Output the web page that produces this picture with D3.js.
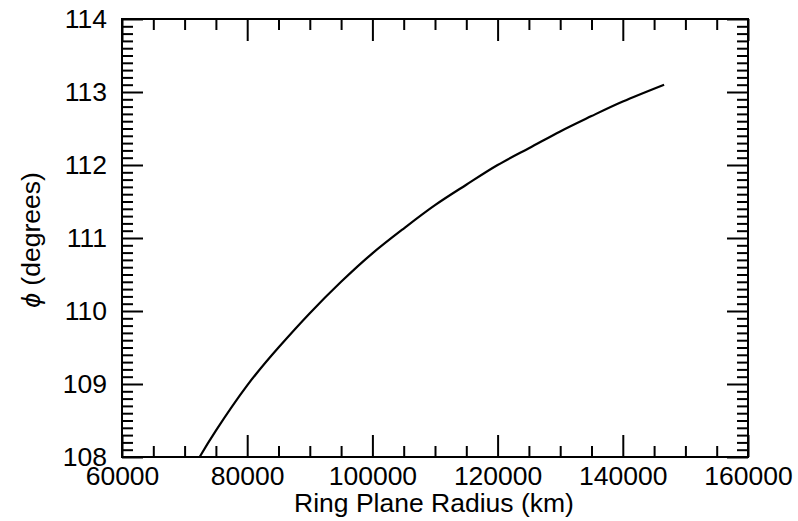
<!DOCTYPE html>
<html>
<head>
<meta charset="utf-8">
<script src="https://cdn.jsdelivr.net/npm/d3@7"></script>
<style>
  html, body { margin: 0; padding: 0; background: #fff; }
  svg { display: block; }
  text { font-family: "Liberation Sans", Arial, Helvetica, sans-serif; fill: #000; }
</style>
</head>
<body>
<svg id="chart" width="798" height="521"></svg>
<script>
// Data
const radius = [72400, 75000, 80000, 85000, 90000, 95000, 100000, 105000, 110000, 115000, 120000, 125000, 130000, 135000, 140000, 146600];
const phi    = [108.00, 108.36, 108.98, 109.50, 109.97, 110.40, 110.79, 111.13, 111.45, 111.73, 112.00, 112.23, 112.46, 112.67, 112.87, 113.10];

const xMajorTicks = [60000, 80000, 100000, 120000, 140000, 160000];
const xMinorTicks = d3.range(60000, 160001, 5000).filter(v => v % 20000 !== 0);
const yMajorTicks = [108, 109, 110, 111, 112, 113, 114];
const yMinorTicks = d3.range(1, 60).map(i => 108 + i / 10).filter((v, i) => (i + 1) % 10 !== 0);

const xTitle = "Ring Plane Radius (km)";
const yTitleSymbol = "ϕ";
const yTitleRest = " (degrees)";

const svg = d3.select("#chart");
const L = 122, R = 748, T = 19, B = 457;

const x = d3.scaleLinear().domain([60000, 160000]).range([L, R]);
const y = d3.scaleLinear().domain([108, 114]).range([B, T]);

const fmt = d3.format("d");
const fontSize = 26.5;

function styleAxis(g) {
  g.select(".domain").remove();
  g.selectAll(".tick line").attr("stroke", "#000").attr("stroke-width", 2);
  g.selectAll(".tick text").style("font-size", fontSize + "px").attr("fill", "#000");
}

// Bottom axis
svg.append("g").attr("transform", `translate(0,${B})`)
  .call(d3.axisBottom(x).tickValues(xMajorTicks).tickSize(-22).tickPadding(9).tickFormat(fmt))
  .call(styleAxis);
svg.append("g").attr("transform", `translate(0,${B})`)
  .call(d3.axisBottom(x).tickValues(xMinorTicks).tickSize(-11).tickFormat(""))
  .call(styleAxis);
// Top axis
svg.append("g").attr("transform", `translate(0,${T})`)
  .call(d3.axisTop(x).tickValues(xMajorTicks).tickSize(-22).tickFormat(""))
  .call(styleAxis);
svg.append("g").attr("transform", `translate(0,${T})`)
  .call(d3.axisTop(x).tickValues(xMinorTicks).tickSize(-11).tickFormat(""))
  .call(styleAxis);
// Left axis
svg.append("g").attr("transform", `translate(${L},0)`)
  .call(d3.axisLeft(y).tickValues(yMajorTicks).tickSize(-21).tickPadding(15).tickFormat(fmt))
  .call(styleAxis);
svg.append("g").attr("transform", `translate(${L},0)`)
  .call(d3.axisLeft(y).tickValues(yMinorTicks).tickSize(-11).tickFormat(""))
  .call(styleAxis);
// Right axis
svg.append("g").attr("transform", `translate(${R},0)`)
  .call(d3.axisRight(y).tickValues(yMajorTicks).tickSize(-21).tickFormat(""))
  .call(styleAxis);
svg.append("g").attr("transform", `translate(${R},0)`)
  .call(d3.axisRight(y).tickValues(yMinorTicks).tickSize(-11).tickFormat(""))
  .call(styleAxis);

// Frame
svg.append("rect")
  .attr("x", L).attr("y", T).attr("width", R - L).attr("height", B - T)
  .attr("fill", "none").attr("stroke", "#000").attr("stroke-width", 2);

// Curve
const pts = radius.map((r, i) => [r, phi[i]]);
svg.append("path")
  .datum(pts)
  .attr("fill", "none")
  .attr("stroke", "#000")
  .attr("stroke-width", 2.2)
  .attr("d", d3.line().x(d => x(d[0])).y(d => y(d[1])).curve(d3.curveNatural));

// Axis titles
svg.append("text")
  .attr("x", 434).attr("y", 512)
  .attr("text-anchor", "middle")
  .style("font-size", fontSize + "px")
  .text(xTitle);

const yt = svg.append("text")
  .attr("transform", `translate(40,240) rotate(-90)`)
  .attr("text-anchor", "middle")
  .style("font-size", fontSize + "px");
yt.append("tspan").style("font-style", "italic").text(yTitleSymbol);
yt.append("tspan").text(yTitleRest);
</script>
</body>
</html>
